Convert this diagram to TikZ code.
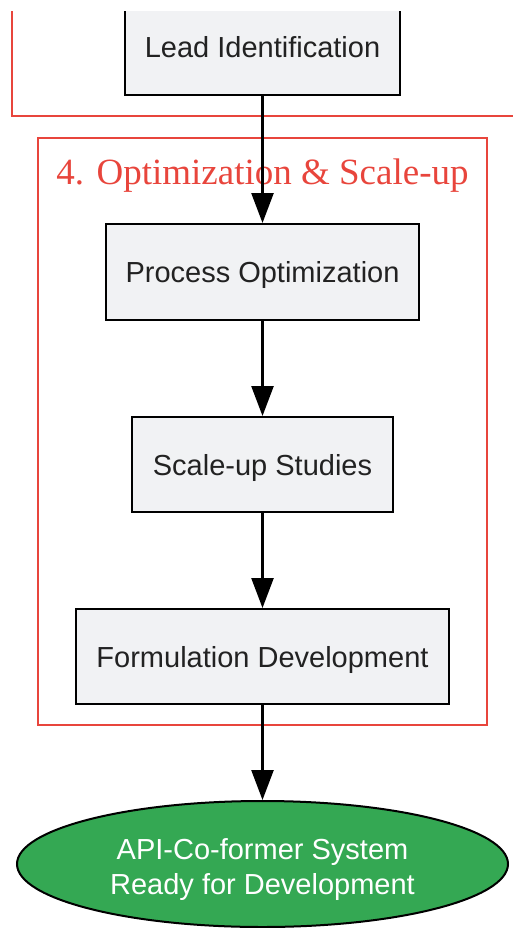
\documentclass[tikz,border=0pt]{standalone}
\usepackage{fontspec}
\setmainfont{Liberation Sans}
\newfontfamily\serifttl{Liberation Serif}
\usetikzlibrary{arrows.meta,shapes.geometric}
\definecolor{boxfill}{HTML}{F1F2F4}
\definecolor{clred}{HTML}{E8453C}
\definecolor{okgreen}{HTML}{34A853}
\definecolor{txt}{HTML}{222222}
\begin{document}
\begin{tikzpicture}[x=1pt,y=-1pt,
  stepbox/.style={draw=black, line width=2pt, fill=boxfill, text=txt, inner sep=0pt, rectangle, text height=29pt, text depth=8pt, font=\fontsize{29}{34}\selectfont},
  cluster/.style={draw=clred, line width=2pt},
  flow/.style={draw=black, line width=2.5pt, -{Triangle[length=30pt,width=22pt]}}]
\useasboundingbox (0,0) rectangle (513,928);
\clip (0,12) rectangle (513,928);
% clusters
\draw[cluster] (12,-20) rectangle (540,116);
\draw[cluster] (38,138) rectangle (487,725);
\node[anchor=base, text=clred, font=\serifttl\fontsize{37}{42}\selectfont] (title) at (262.5,185) {4. Optimization \& Scale-up};
% nodes
\node[stepbox, minimum width=275pt, minimum height=96pt] (lead) at (262.5,47) {Lead Identification};
\node[stepbox, minimum width=313pt, minimum height=96pt] (proc) at (262.5,272) {Process Optimization};
\node[stepbox, minimum width=261pt, minimum height=95pt] (scale) at (262.5,464.5) {Scale-up Studies};
\node[stepbox, minimum width=373pt, minimum height=95pt] (form) at (262.5,656.5) {Formulation Development};
\node[ellipse, draw=black, line width=2pt, fill=okgreen, text=white, inner sep=0pt, minimum width=491pt, minimum height=126pt, font=\fontsize{29}{35}\selectfont] (ready) at (262.5,864) {\raisebox{-30pt}[0pt][0pt]{\begin{tabular}[b]{@{}c@{}}API-Co-former System\\Ready for Development\end{tabular}}};
% connectors
\draw[flow] (lead) -- (proc);
\draw[flow] (proc) -- (scale);
\draw[flow] (scale) -- (form);
\draw[flow] (form) -- (ready);
\end{tikzpicture}
\end{document}
